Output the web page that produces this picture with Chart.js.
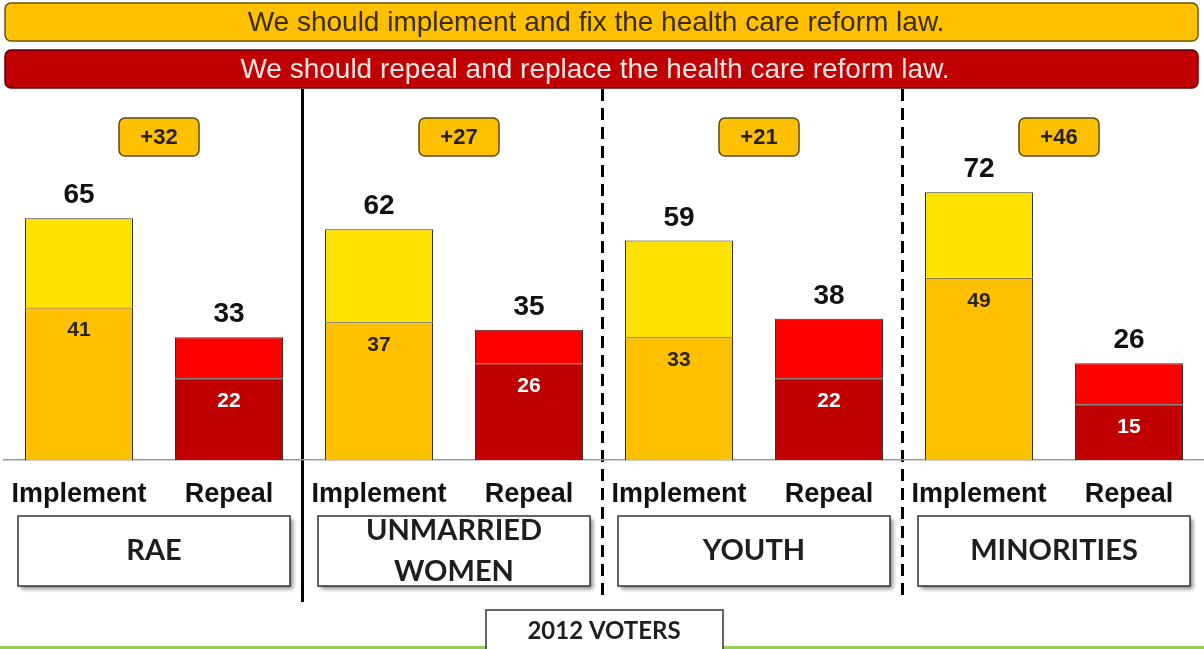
<!DOCTYPE html>
<html>
<head>
<meta charset="utf-8">
<script src="https://cdn.jsdelivr.net/npm/chart.js@4.4.1/dist/chart.umd.min.js"></script>
<style>
  html, body { margin: 0; padding: 0; background: #fff; }
  #wrap { width: 1204px; height: 649px; position: relative; }
</style>
</head>
<body>
<div id="wrap"><canvas id="chart"></canvas></div>
<script>
// ---- data ----
const groups = ['RAE', 'UNMARRIED\nWOMEN', 'YOUTH', 'MINORITIES'];
const barLabels = ['Implement', 'Repeal'];
const implementTotal = [65, 62, 59, 72];
const implementStrong = [41, 37, 33, 49];
const repealTotal = [33, 35, 38, 26];
const repealStrong = [22, 26, 22, 15];

const headerImplement = 'We should implement and fix the health care reform law.';
const headerRepeal = 'We should repeal and replace the health care reform law.';
const footerLabel = '2012 VOTERS';

// ---- colours ----
const YELLOW_LIGHT = '#FFE200';
const YELLOW_DARK = '#FFC000';
const RED_LIGHT = '#FF0000';
const RED_DARK = '#C00000';

// interleave into 8 bars
const categories = [];
const strongVals = [];
const totalVals = [];
const strongColors = [];
const lightColors = [];
groups.forEach((g, i) => {
  categories.push(barLabels[0], barLabels[1]);
  strongVals.push(implementStrong[i], repealStrong[i]);
  totalVals.push(implementTotal[i], repealTotal[i]);
  strongColors.push(YELLOW_DARK, RED_DARK);
  lightColors.push(YELLOW_LIGHT, RED_LIGHT);
});
const restVals = totalVals.map((t, i) => t - strongVals[i]);

function roundBox(ctx, x, y, w, h, r, fill, stroke, lw) {
  ctx.beginPath();
  ctx.roundRect(x, y, w, h, r);
  ctx.fillStyle = fill;
  ctx.fill();
  ctx.lineWidth = lw;
  ctx.strokeStyle = stroke;
  ctx.stroke();
}

// everything around the bars
const decorations = {
  id: 'decorations',
  beforeDraw(chart) {
    const ctx = chart.ctx;
    ctx.save();
    // header boxes
    roundBox(ctx, 5, 3, 1193, 38, 6, YELLOW_DARK, '#6b5200', 1.5);
    roundBox(ctx, 5, 50, 1193, 38, 6, RED_DARK, '#5a0000', 1.5);
    ctx.textAlign = 'center';
    ctx.textBaseline = 'middle';
    ctx.font = '28px "Liberation Sans", Arial, sans-serif';
    ctx.fillStyle = '#3a2c00';
    ctx.fillText(headerImplement, 596, 23);
    ctx.fillStyle = '#f7e8e8';
    ctx.fillText(headerRepeal, 595, 70);

    // dividers between groups
    const meta = chart.getDatasetMeta(0).data;
    ctx.strokeStyle = '#000';
    ctx.lineWidth = 3;
    for (let g = 1; g < groups.length; g++) {
      const x = Math.round((meta[2 * g - 1].x + meta[2 * g].x) / 2) - 1.5;
      ctx.setLineDash(g === 1 ? [] : [12, 7]);
      ctx.beginPath();
      ctx.moveTo(x, 89);
      ctx.lineTo(x, 602);
      ctx.stroke();
    }
    ctx.setLineDash([]);

    // green bottom line
    ctx.fillStyle = '#92D050';
    ctx.fillRect(0, 646, 1204, 3);
    ctx.restore();
  },
  afterDatasetsDraw(chart) {
    const ctx = chart.ctx;
    const strong = chart.getDatasetMeta(0).data;
    const rest = chart.getDatasetMeta(1).data;
    ctx.save();
    ctx.textAlign = 'center';

    // values on bars
    for (let i = 0; i < categories.length; i++) {
      const top = rest[i];
      ctx.font = 'bold 28px "Liberation Sans", Arial, sans-serif';
      ctx.fillStyle = '#111';
      ctx.textBaseline = 'alphabetic';
      ctx.fillText(String(totalVals[i]), top.x, top.y - 15);

      const inner = strong[i];
      ctx.font = 'bold 21px "Liberation Sans", Arial, sans-serif';
      ctx.fillStyle = i % 2 === 0 ? '#2b2410' : '#fff';
      ctx.textBaseline = 'middle';
      ctx.fillText(String(strongVals[i]), inner.x, inner.y + 23);
    }

    // margin badges and group boxes
    for (let g = 0; g < groups.length; g++) {
      const a = strong[2 * g];
      const b = strong[2 * g + 1];
      const mid = (a.x + b.x) / 2;

      const diff = implementTotal[g] - repealTotal[g];
      roundBox(ctx, mid + 5 - 40, 118, 80, 38, 6, YELLOW_DARK, '#5c4a10', 1.5);
      ctx.font = 'bold 22px "Liberation Sans", Arial, sans-serif';
      ctx.fillStyle = '#222';
      ctx.textBaseline = 'middle';
      ctx.fillText('+' + diff, mid + 5, 138);

      const left = a.x - a.width / 2 - 7;
      const right = b.x + b.width / 2 + 7;
      ctx.save();
      ctx.shadowColor = 'rgba(0,0,0,0.45)';
      ctx.shadowBlur = 4;
      ctx.shadowOffsetX = 3;
      ctx.shadowOffsetY = 3;
      ctx.fillStyle = '#fff';
      ctx.fillRect(left, 516, right - left, 70);
      ctx.restore();
      ctx.lineWidth = 1.5;
      ctx.strokeStyle = '#333';
      ctx.strokeRect(left, 516, right - left, 70);

      ctx.font = 'bold 29px Lato, "Open Sans", sans-serif';
      ctx.fillStyle = '#1e1e1e';
      const lines = groups[g].split('\n');
      const cy = 551;
      lines.forEach((ln, k) => {
        ctx.fillText(ln, mid, cy + (k - (lines.length - 1) / 2) * 41);
      });
    }

    // footer box
    ctx.fillStyle = '#fff';
    ctx.fillRect(486, 610, 237, 45);
    ctx.lineWidth = 1.5;
    ctx.strokeStyle = '#333';
    ctx.strokeRect(486, 610, 237, 45);
    ctx.font = 'bold 24px Lato, "Open Sans", sans-serif';
    ctx.fillStyle = '#1e1e1e';
    ctx.fillText(footerLabel, 604, 631);
    ctx.restore();
  }
};

new Chart(document.getElementById('chart'), {
  type: 'bar',
  data: {
    labels: categories,
    datasets: [
      {
        label: 'strong',
        data: strongVals,
        backgroundColor: strongColors,
        borderColor: '#333',
        borderWidth: 1
      },
      {
        label: 'rest',
        data: restVals,
        backgroundColor: lightColors,
        borderColor: '#333',
        borderWidth: 1
      }
    ]
  },
  options: {
    responsive: true,
    maintainAspectRatio: false,
    animation: false,
    layout: { padding: { top: 88, left: 4, right: 0, bottom: 0 } },
    plugins: { legend: { display: false }, tooltip: { enabled: false } },
    scales: {
      x: {
        stacked: true,
        grid: { display: false, drawTicks: false },
        border: { display: true, color: '#9a9a9a', width: 1.5 },
        ticks: {
          color: '#111',
          padding: 18,
          font: { family: '"Liberation Sans", Arial, sans-serif', size: 27, weight: 'bold' },
          maxRotation: 0,
          autoSkip: false
        },
        afterFit(scale) {
          scale.height = 189;
          scale.paddingLeft = 0;
          scale.paddingRight = 0;
        }
      },
      y: {
        stacked: true,
        display: false,
        min: 0,
        max: 100
      }
    }
  },
  plugins: [decorations]
});
</script>
</body>
</html>
